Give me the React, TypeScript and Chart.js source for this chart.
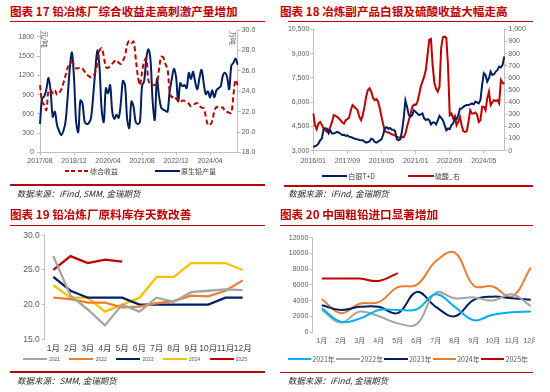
import React, { useEffect, useRef } from "react";
import { Chart, registerables } from "chart.js";

Chart.register(...registerables);

const FONT = "'Liberation Sans', 'Noto Sans CJK SC', sans-serif";
const CJK = "'Noto Sans CJK SC', 'Liberation Sans', sans-serif";
const AXIS = "#BFBFBF";
const TICK = "#595959";

function monthLabels(y0: number, m0: number, n: number): string[] {
  const out: string[] = [];
  let y = y0;
  let m = m0;
  for (let i = 0; i < n; i++) {
    out.push(`${y}/${String(m).padStart(2, "0")}`);
    m++;
    if (m > 12) {
      m = 1;
      y++;
    }
  }
  return out;
}

// ---------- 图表17 ----------
const c1Labels = monthLabels(2017, 8, 94);
const c1Income = [
  1050, 790, 740, 660, 960, 976, 925, 970, 900, 930,
  980, 1080, 1200, 1320, 1380, 1410, 1370, 1310, 1315, 1325,
  1310, 1260, 1215, 1190, 1170, 1190, 1250, 1400, 1590, 1625,
  1500, 1330, 1320, 1350, 1385, 1420, 1440, 1400, 1380, 1430,
  1510, 1680, 1740, 1705, 1730, 1480, 1200, 1050, 1250, 1420,
  1470, 1120, 1070, 1060, 1050, 1080, 1300, 1490, 1480, 1380,
  1300, 950, 860, 880, 840, 800, 780, 810, 805, 785,
  760, 720, 730, 760, 770, 725, 700, 690, 560, 430,
  430, 490, 640, 710, 700, 695, 705, 640, 630, 620,
  615, 900, 1130, 1050,
];
const c1Output = [
  20.8, 23.3, 23.5, 24.2, 25.3, 24.0, 21.5, 22.0, 20.7, 20.1,
  19.7, 20.1, 21.0, 23.4, 26.2, 27.8, 25.3, 21.0, 20.0, 23.1,
  22.8, 21.0, 20.8, 20.9, 21.4, 23.5, 26.0, 28.0, 26.3, 22.2,
  21.0, 24.3, 23.8, 24.6, 22.0, 21.3, 21.7, 21.4, 22.8, 25.0,
  24.6, 21.3, 20.4, 23.0, 22.5, 21.0, 20.8, 21.0, 24.5, 25.0,
  27.2, 28.1, 27.0, 23.0, 21.2, 25.2, 23.5, 22.4, 22.2, 22.1,
  22.0, 24.0, 25.2, 26.2, 25.4, 23.0, 24.8, 24.5, 24.6, 24.3,
  25.8, 25.2, 25.9, 24.9, 24.2, 25.3, 26.1, 24.8, 23.7, 24.0,
  23.4, 24.1, 23.4, 24.1, 24.3, 24.5, 25.5, 25.8, 25.4, 24.2,
  26.5, 26.8, 27.2, 26.6,
];
const c1LabelEvery = 16;

// ---------- 图表18 ----------
const c2Labels = monthLabels(2016, 1, 113);
const c2Silver = [
  3230, 3280, 3330, 3440, 3640, 3750, 4300, 4400, 4360, 4080,
  4250, 4060, 4060, 4120, 4160, 4110, 4050, 3960, 3990, 3910,
  3950, 3860, 3850, 3800, 3750, 3720, 3700, 3660, 3640, 3640,
  3560, 3500, 3540, 3580, 3740, 3700, 3540, 3500, 3560, 3640,
  3700, 4000, 4400, 4450, 4350, 4400, 4300, 4300, 4200, 3700,
  3650, 3700, 4200, 5000, 6100, 5700, 5200, 5100, 5200, 5500,
  5400, 5300, 5200, 5250, 5300, 5000, 4900, 4950, 4880, 4620,
  4740, 4740, 4620, 4880, 5150, 5030, 4880, 4580, 4260, 4370,
  4330, 4580, 4680, 4990, 4950, 5200, 5600, 5610, 5710, 5780,
  5820, 5820, 5860, 5920, 5860, 6030, 5980, 5920, 6130, 7060,
  7790, 7680, 7270, 7480, 7890, 7680, 7720, 7890, 7990, 8200,
  8140, 8300, 8820,
];
const c2Acid = [
  307, 210, 177, 224, 237, 215, 182, 168, 155, 168,
  196, 237, 293, 287, 279, 265, 251, 232, 224, 251,
  260, 271, 334, 376, 362, 348, 334, 279, 251, 293,
  362, 445, 500, 514, 486, 436, 417, 425, 403, 348,
  280, 215, 160, 155, 150, 145, 135, 130, 125, 115,
  110, 105, 115, 110, 140, 200, 250, 300, 360, 380,
  376, 400, 459, 528, 569, 610, 666, 790, 914, 920,
  700, 560, 510, 486, 528, 850, 935, 939, 930, 700,
  293, 307, 265, 287, 210, 237, 279, 210, 160, 155,
  160, 237, 334, 307, 307, 315, 298, 237, 251, 362,
  362, 334, 431, 486, 376, 398, 417, 409, 417, 390,
  583, 560, 550,
];
const c2LabelEvery = 20;

// ---------- 图表19 ----------
const c3Months = ["1月", "2月", "3月", "4月", "5月", "6月", "7月", "8月", "9月", "10月", "11月", "12月"];
const c3Y2021 = [27.0, 21.3, 19.3, 17.0, 20.0, 19.0, 21.0, 20.4, 21.8, 22.0, 22.2, 22.1];
const c3Y2022 = [21.0, 20.8, 20.3, 20.3, 19.6, 19.7, 20.2, 20.5, 21.3, 21.2, 22.0, 23.5];
const c3Y2023 = [24.0, 22.0, 21.0, 21.0, 21.0, 20.0, 20.0, 20.0, 20.0, 20.0, 21.0, 21.0];
const c3Y2024 = [22.8, 21.0, 21.0, 19.0, 20.0, 21.0, 24.0, 24.0, 26.0, 26.0, 26.0, 25.0];
const c3Y2025 = [25.0, 27.0, 26.0, 26.5, 26.2];
const c3Names = ["2021", "2022", "2023", "2024", "2025"];

// ---------- 图表20 ----------
const c4Months = ["1月", "2月", "3月", "4月", "5月", "6月", "7月", "8月", "9月", "10月", "11月", "12月"];
const c4Y2021 = [3000, 1300, 1700, 2800, 2800, 2900, 4800, 3200, 1500, 2200, 2500, 2600];
const c4Y2022 = [2800, 1200, 2600, 2000, 1100, 1000, 5000, 4300, 4400, 4000, 4800, 3300];
const c4Y2023 = [3400, 2800, 3200, 3200, 2400, 5100, 3200, 2000, 4100, 4500, 4300, 4100];
const c4Y2024 = [4200, 2400, 3600, 3800, 5700, 6000, 9000, 10100, 5900, 5800, 4500, 8200];
const c4Y2025 = [6800, 6800, 6800, 6500, 7500];
const c4Names = ["2021年", "2022年", "2023年", "2024年", "2025年"];

const GREY = "#A5A5A5";
const ORANGE = "#ED7D31";
const NAVY = "#002060";
const GOLD = "#FFC000";
const DARKRED = "#C00000";
const SKY = "#00B0F0";

const gridTicks = { display: true, drawOnChartArea: false, drawTicks: true, tickLength: 3, color: AXIS };
const noGrid = { display: false, drawOnChartArea: false, drawTicks: false, tickLength: 0 };
const border = { display: true, color: AXIS, width: 1 };

function config1(): any {
  return {
    type: "line",
    data: {
      labels: c1Labels,
      datasets: [
        { label: "综合收益", data: c1Income, yAxisID: "y", borderColor: DARKRED, borderWidth: 2, borderDash: [5, 3], pointRadius: 0, tension: 0.35, fill: false },
        { label: "原生铅产量", data: c1Output, yAxisID: "y1", borderColor: NAVY, borderWidth: 2, pointRadius: 0, tension: 0.35, fill: false },
      ],
    },
    options: {
      animation: false,
      responsive: false,
      maintainAspectRatio: false,
      layout: { padding: { top: 10, left: 0, right: 0, bottom: 0 } },
      plugins: { legend: { display: false }, tooltip: { enabled: false } },
      scales: {
        x: {
          type: "category",
          offset: false,
          grid: gridTicks,
          border,
          ticks: { autoSkip: false, maxRotation: 0, minRotation: 0, padding: 1, color: TICK, font: { size: 7, family: FONT } },
          afterBuildTicks: (s: any) => { s.ticks = s.ticks.filter((t: any) => t.value % c1LabelEvery === 0); },
          afterFit: (s: any) => { s.height = 17.5; },
        },
        y: {
          position: "left",
          min: 0,
          max: 1909,
          grid: gridTicks,
          border,
          ticks: { stepSize: 300, includeBounds: false, padding: 3, color: TICK, font: { size: 7, family: FONT }, callback: (v: any) => String(v) },
          afterFit: (s: any) => { s.width = 40; },
        },
        y1: {
          position: "right",
          min: 18,
          max: 30,
          grid: gridTicks,
          border,
          ticks: { stepSize: 2, padding: 1, color: TICK, font: { size: 7, family: FONT }, callback: (v: any) => Number(v).toFixed(1) },
          afterFit: (s: any) => { s.width = 32.3; },
        },
      },
    },
  };
}

function config2(): any {
  return {
    type: "line",
    data: {
      labels: c2Labels,
      datasets: [
        { label: "白银T+D", data: c2Silver, yAxisID: "y", borderColor: NAVY, borderWidth: 2, pointRadius: 0, tension: 0, fill: false },
        { label: "硫酸_右", data: c2Acid, yAxisID: "y1", borderColor: DARKRED, borderWidth: 2, pointRadius: 0, tension: 0, fill: false },
      ],
    },
    options: {
      animation: false,
      responsive: false,
      maintainAspectRatio: false,
      layout: { padding: { top: 9.3, left: 0, right: 0, bottom: 0 } },
      plugins: { legend: { display: false }, tooltip: { enabled: false } },
      scales: {
        x: {
          type: "category",
          offset: false,
          grid: gridTicks,
          border,
          ticks: { autoSkip: false, maxRotation: 0, minRotation: 0, padding: 3, color: TICK, font: { size: 7, family: FONT } },
          afterBuildTicks: (s: any) => { s.ticks = s.ticks.filter((t: any) => t.value % c2LabelEvery === 0); },
          afterFit: (s: any) => { s.height = 19.3; },
        },
        y: {
          position: "left",
          min: 3000,
          max: 10500,
          grid: gridTicks,
          border,
          ticks: { stepSize: 1500, padding: 1, color: TICK, font: { size: 7, family: FONT }, callback: (v: any) => Number(v).toLocaleString("en-US") },
          afterFit: (s: any) => { s.width = 38.3; },
        },
        y1: {
          position: "right",
          min: 0,
          max: 1000,
          grid: gridTicks,
          border,
          ticks: { stepSize: 100, padding: 1, color: TICK, font: { size: 7, family: FONT }, callback: (v: any) => Number(v).toLocaleString("en-US") },
          afterFit: (s: any) => { s.width = 45.7; },
        },
      },
    },
  };
}

function config3(): any {
  const series = [c3Y2021, c3Y2022, c3Y2023, c3Y2024, c3Y2025];
  const colors = [GREY, ORANGE, NAVY, GOLD, DARKRED];
  return {
    type: "line",
    data: {
      labels: c3Months,
      datasets: series.map((d, i) => ({
        label: c3Names[i], data: d, borderColor: colors[i], borderWidth: 2.3, pointRadius: 0, tension: 0, fill: false,
      })),
    },
    options: {
      animation: false,
      responsive: false,
      maintainAspectRatio: false,
      layout: { padding: { top: 10.3, left: 0, right: 23.7, bottom: 0 } },
      plugins: { legend: { display: false }, tooltip: { enabled: false } },
      scales: {
        x: {
          type: "category",
          offset: true,
          grid: noGrid,
          border: { display: false },
          ticks: { autoSkip: false, maxRotation: 0, minRotation: 0, padding: 4, color: "#404040", font: { size: 8.5, family: FONT } },
          afterFit: (s: any) => { s.height = 17.7; },
        },
        y: {
          position: "left",
          min: 15,
          max: 30,
          grid: gridTicks,
          border,
          ticks: { stepSize: 5, padding: 2, color: TICK, font: { size: 8.5, family: FONT }, callback: (v: any) => Number(v).toFixed(1) },
          afterFit: (s: any) => { s.width = 44.7; },
        },
      },
    },
  };
}

function config4(): any {
  const series = [c4Y2021, c4Y2022, c4Y2023, c4Y2024, c4Y2025];
  const colors = [SKY, GREY, NAVY, ORANGE, DARKRED];
  return {
    type: "line",
    data: {
      labels: c4Months,
      datasets: series.map((d, i) => ({
        label: c4Names[i], data: d, borderColor: colors[i], borderWidth: 2, pointRadius: 0, tension: 0.4, fill: false,
      })),
    },
    options: {
      animation: false,
      responsive: false,
      maintainAspectRatio: false,
      layout: { padding: { top: 12.7, left: 0, right: 9.7, bottom: 0 } },
      plugins: { legend: { display: false }, tooltip: { enabled: false } },
      scales: {
        x: {
          type: "category",
          offset: true,
          grid: noGrid,
          border: { display: false },
          ticks: { autoSkip: false, maxRotation: 0, minRotation: 0, padding: 5, color: TICK, font: { size: 7, family: FONT } },
          afterFit: (s: any) => { s.height = 18; },
        },
        y: {
          position: "left",
          min: 0,
          max: 12000,
          grid: gridTicks,
          border,
          ticks: { stepSize: 2000, padding: 1, color: TICK, font: { size: 7, family: FONT }, callback: (v: any) => String(v) },
          afterFit: (s: any) => { s.width = 37.3; },
        },
      },
    },
  };
}

function ChartBox(props: { left: number; top: number; width: number; height: number; clip?: number; make: () => any }) {
  const ref = useRef<HTMLCanvasElement>(null);
  useEffect(() => {
    const chart = new Chart(ref.current as HTMLCanvasElement, props.make());
    return () => chart.destroy();
  }, []);
  return (
    <div style={{ position: "absolute", left: props.left, top: props.top, width: props.clip ?? props.width, height: props.height, overflow: "hidden" }}>
      <canvas ref={ref} width={props.width} height={props.height} style={{ width: props.width, height: props.height, display: "block" }} />
    </div>
  );
}

function Text(props: { x: number; cy: number; size: number; children: any; color?: string; bold?: boolean; italic?: boolean; family?: string }) {
  const lh = Math.round(props.size * 1.4);
  return (
    <div
      style={{
        position: "absolute",
        left: props.x,
        top: props.cy - lh / 2,
        lineHeight: `${lh}px`,
        fontSize: props.size,
        color: props.color ?? "#404040",
        fontWeight: props.bold ? 700 : 400,
        fontStyle: props.italic ? "italic" : "normal",
        fontFamily: props.family ?? CJK,
        whiteSpace: "nowrap",
      }}
    >
      {props.children}
    </div>
  );
}

function Rule(props: { x1: number; x2: number; y: number }) {
  return <div style={{ position: "absolute", left: props.x1, top: props.y - 0.75, width: props.x2 - props.x1, height: 1.5, background: "#C00000" }} />;
}

function LegendLine(props: { x: number; y: number; w: number; color: string; dashed?: boolean; thick?: number }) {
  const t = props.thick ?? 2;
  return (
    <div
      style={{
        position: "absolute",
        left: props.x,
        top: props.y - t / 2,
        width: props.w,
        height: t,
        background: props.dashed
          ? `repeating-linear-gradient(90deg, ${props.color} 0 4px, transparent 4px 6.5px)`
          : props.color,
      }}
    />
  );
}

export default function App() {
  const c3Colors = [GREY, ORANGE, NAVY, GOLD, DARKRED];
  const c4Colors = [SKY, GREY, NAVY, ORANGE, DARKRED];
  return (
    <div style={{ position: "absolute", left: 0, top: 0, width: 550, height: 392, background: "#fff", overflow: "hidden" }}>
      {/* Chart 17 */}
      <Text x={10} cy={11} size={11.6} bold color="#C00000">图表 17 铅冶炼厂综合收益走高刺激产量增加</Text>
      <Rule x1={10} x2={265} y={21.7} />
      <ChartBox left={0} top={20} width={270} height={150} make={config1} />
      <div style={{ position: "absolute", left: 41, top: 31, fontSize: 7, color: TICK, fontFamily: CJK, writingMode: "vertical-rl", textOrientation: "sideways", lineHeight: "8px" } as any}>元/吨</div>
      <div style={{ position: "absolute", left: 229, top: 31, fontSize: 7, color: TICK, fontFamily: CJK, writingMode: "vertical-rl", textOrientation: "sideways", lineHeight: "8px" } as any}>万吨</div>
      <LegendLine x={65} y={170.7} w={23} color={DARKRED} dashed />
      <Text x={90} cy={170.7} size={7}>综合收益</Text>
      <LegendLine x={155} y={170.7} w={25} color={NAVY} />
      <Text x={181} cy={170.7} size={7}>原生铅产量</Text>
      <Rule x1={10} x2={265} y={185} />
      <Text x={16.7} cy={192.7} size={8.5} italic color="#262626">数据来源：iFind, SMM, 金瑞期货</Text>

      {/* Chart 18 */}
      <Text x={280} cy={11} size={11.6} bold color="#C00000">图表 18 冶炼副产品白银及硫酸收益大幅走高</Text>
      <Rule x1={288} x2={533} y={21.7} />
      <ChartBox left={275} top={20} width={275} height={150} make={config2} />
      <LegendLine x={321.7} y={175.7} w={25} color={NAVY} />
      <Text x={348.3} cy={175.7} size={7}>白银T+D</Text>
      <LegendLine x={408.3} y={175.7} w={26} color={DARKRED} />
      <Text x={435} cy={175.7} size={7}>硫酸_右</Text>
      <Rule x1={284} x2={533} y={186} />
      <Text x={288.3} cy={192.7} size={8.5} italic color="#262626">数据来源：iFind, 金瑞期货</Text>

      {/* Chart 19 */}
      <Text x={10} cy={213.7} size={11.6} bold color="#C00000">图表 19 铅冶炼厂原料库存天数改善</Text>
      <Rule x1={10} x2={265} y={225.3} />
      <ChartBox left={0} top={225} width={275} height={132} make={config3} />
      {c3Names.map((n, i) => (
        <React.Fragment key={n}>
          <LegendLine x={22.7 + i * 46.7} y={359.3} w={24} color={c3Colors[i]} thick={2.3} />
          <Text x={49 + i * 46.7} cy={359.3} size={5} color={TICK} family={FONT}>{n}</Text>
        </React.Fragment>
      ))}
      <Rule x1={10} x2={265} y={372} />
      <Text x={17} cy={380} size={8.5} italic color="#262626">数据来源：SMM, 金瑞期货</Text>

      {/* Chart 20 */}
      <Text x={280} cy={213.7} size={11.6} bold color="#C00000">图表 20 中国粗铅进口显著增加</Text>
      <Rule x1={280} x2={533} y={225.3} />
      <ChartBox left={275} top={225} width={275} height={125} clip={260} make={config4} />
      {c4Names.map((n, i) => (
        <React.Fragment key={n}>
          <LegendLine x={287.7 + i * 48.3} y={359} w={23.5} color={c4Colors[i]} thick={2.3} />
          <Text x={312.3 + i * 48.3} cy={359} size={7} color={TICK}>{n}</Text>
        </React.Fragment>
      ))}
      <Rule x1={280} x2={533} y={372.3} />
      <Text x={287.7} cy={380} size={8.5} italic color="#262626">数据来源：iFind, 金瑞期货</Text>
    </div>
  );
}
